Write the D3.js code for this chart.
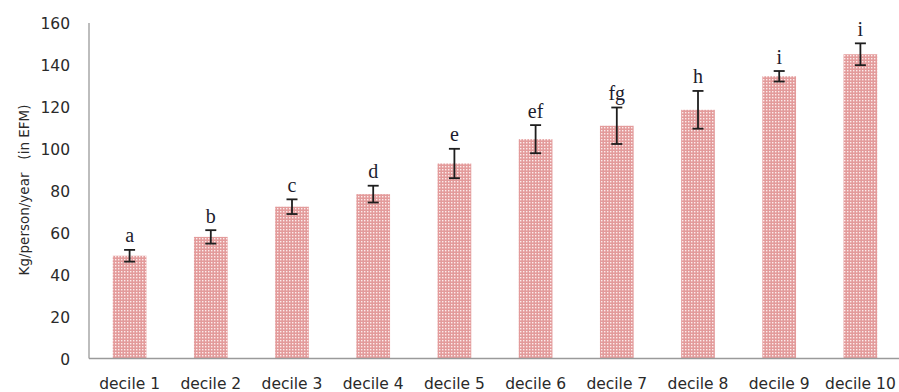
<!DOCTYPE html>
<html>
<head>
<meta charset="utf-8">
<script src="https://cdn.jsdelivr.net/npm/d3@7"></script>
<style>
  html, body { margin: 0; padding: 0; background: #fff; }
  svg { display: block; }
</style>
</head>
<body>
<svg id="chart" width="899" height="392"></svg>
<script>
// Fish consumption by income decile
const categories = ["decile 1", "decile 2", "decile 3", "decile 4", "decile 5",
                    "decile 6", "decile 7", "decile 8", "decile 9", "decile 10"];
const means   = [49, 58, 72.4, 78.4, 93, 104.6, 111, 118.6, 134.6, 145.1];
const errors  = [2.8, 3.2, 3.5, 4, 7, 6.7, 8.7, 9, 2.5, 5.2];
const groups  = ["a", "b", "c", "d", "e", "ef", "fg", "h", "i", "i"];
const yTicks  = [0, 20, 40, 60, 80, 100, 120, 140, 160];

const svg = d3.select("#chart");
const plotLeft = 89, plotRight = 901, plotTop = 23, plotBottom = 358.5;
const labelFont = "'DejaVu Sans', Verdana, sans-serif";

const x = d3.scaleBand()
  .domain(categories)
  .range([plotLeft, plotRight])
  .paddingInner(0.585)
  .paddingOuter(0.2925);

const y = d3.scaleLinear().domain([0, 160]).range([plotBottom, plotTop]);

// dotted fill for the bars
const defs = svg.append("defs");
const pat = defs.append("pattern")
  .attr("id", "dots")
  .attr("patternUnits", "userSpaceOnUse")
  .attr("width", 3).attr("height", 3);
pat.append("rect").attr("width", 3).attr("height", 3).attr("fill", "#e39b9b");
pat.append("rect").attr("x", 1).attr("y", 1).attr("width", 1.4).attr("height", 1.4).attr("fill", "#fcecec");

// y axis: labels only, with a plain grey line
const yAxis = d3.axisLeft(y).tickValues(yTicks).tickSize(0).tickPadding(0);
const gy = svg.append("g").attr("transform", `translate(${plotLeft},0)`).call(yAxis);
gy.select(".domain").remove();
gy.selectAll("text")
  .attr("x", -19)
  .attr("dy", "0.36em")
  .style("font-family", labelFont)
  .style("font-size", "15.5px")
  .style("fill", "#2a2a2a");

svg.append("line")
  .attr("x1", plotLeft).attr("x2", plotLeft)
  .attr("y1", plotTop).attr("y2", plotBottom)
  .attr("stroke", "#9a9a9a").attr("stroke-width", 1.3);

// bars
svg.append("g").selectAll("rect")
  .data(categories)
  .join("rect")
  .attr("x", d => x(d))
  .attr("width", x.bandwidth())
  .attr("y", (d, i) => y(means[i]))
  .attr("height", (d, i) => y(0) - y(means[i]))
  .attr("fill", "url(#dots)");

// x axis
const xAxis = d3.axisBottom(x).tickSize(0).tickPadding(0);
const gx = svg.append("g").attr("transform", `translate(0,${plotBottom})`).call(xAxis);
gx.select(".domain").remove();
gx.selectAll("text")
  .attr("y", 30.5)
  .attr("dy", 0)
  .style("font-family", labelFont)
  .style("font-size", "15.5px")
  .style("fill", "#2a2a2a");

svg.append("line")
  .attr("x1", plotLeft).attr("x2", 899)
  .attr("y1", plotBottom).attr("y2", plotBottom)
  .attr("stroke", "#9a9a9a").attr("stroke-width", 1.5);

// error bars
const eb = svg.append("g").attr("stroke", "#1e1e1e").attr("stroke-width", 1.8);
categories.forEach((c, i) => {
  const cx = x(c) + x.bandwidth() / 2;
  const hi = y(means[i] + errors[i]), lo = y(means[i] - errors[i]);
  eb.append("line").attr("x1", cx).attr("x2", cx).attr("y1", hi).attr("y2", lo);
  eb.append("line").attr("x1", cx - 5.5).attr("x2", cx + 5.5).attr("y1", hi).attr("y2", hi);
  eb.append("line").attr("x1", cx - 5.5).attr("x2", cx + 5.5).attr("y1", lo).attr("y2", lo);
});

// significance letters
svg.append("g").selectAll("text")
  .data(categories)
  .join("text")
  .attr("x", d => x(d) + x.bandwidth() / 2)
  .attr("y", (d, i) => y(means[i] + errors[i]) - 7.5)
  .attr("text-anchor", "middle")
  .style("font-family", "'Liberation Serif', 'Times New Roman', serif")
  .style("font-size", "20px")
  .style("fill", "#1c1c2e")
  .text((d, i) => groups[i]);

// y axis title
svg.append("text")
  .attr("transform", "translate(24,190) rotate(-90)")
  .attr("dy", "0.35em")
  .attr("text-anchor", "middle")
  .attr("xml:space", "preserve")
  .style("white-space", "pre")
  .style("font-family", labelFont)
  .style("font-size", "13.5px")
  .style("fill", "#2a2a2a")
  .text("Kg/person/year   (in EFM)");
</script>
</body>
</html>
